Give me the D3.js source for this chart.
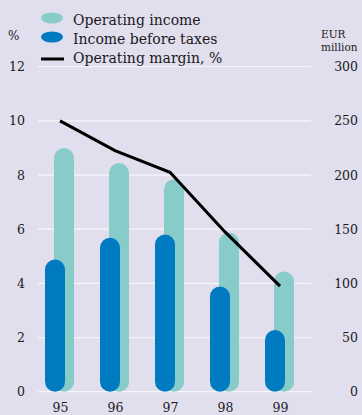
<!DOCTYPE html>
<html>
<head>
<meta charset="utf-8">
<script src="https://cdn.jsdelivr.net/npm/d3@7"></script>
<style>
  html, body { margin: 0; padding: 0; background: #e1deee; }
  svg { display: block; }
  text { font-family: "DejaVu Serif", "Liberation Serif", serif; fill: #1a1a1a; }
</style>
</head>
<body>
<script>
const years = ["95", "96", "97", "98", "99"];
const operatingIncome = [225, 211, 196, 147, 111];
const incomeBeforeTaxes = [122, 142, 145, 97, 57];
const operatingMargin = [10.0, 8.9, 8.1, 5.9, 3.9];
const leftTicks = [0, 2, 4, 6, 8, 10, 12];
const rightTicks = [0, 50, 100, 150, 200, 250, 300];
const legendLabels = ["Operating income", "Income before taxes", "Operating margin, %"];

const W = 362, H = 415;
const colBg = "#e1deee", colTeal = "#88ccc9", colBlue = "#007bc2", colGrid = "#f6f5fb";

const svg = d3.select("body").append("svg").attr("width", W).attr("height", H);
svg.append("rect").attr("width", W).attr("height", H).attr("fill", colBg);

const x = d3.scalePoint().domain(years).range([60, 280]);
const yL = d3.scaleLinear().domain([0, 12]).range([391.7, 66.7]);
const yR = d3.scaleLinear().domain([0, 300]).range([391.7, 66.7]);

// gridlines
svg.append("g").selectAll("line").data(leftTicks).join("line")
  .attr("x1", 38).attr("x2", 311)
  .attr("y1", d => yL(d)).attr("y2", d => yL(d))
  .attr("stroke", colGrid).attr("stroke-width", 1.3);

// left axis
const gL = svg.append("g").attr("transform", "translate(38,0)")
  .call(d3.axisLeft(yL).tickValues(leftTicks).tickSize(0).tickPadding(13));
gL.select(".domain").remove();
gL.selectAll("text").attr("font-size", 12.5).attr("font-family", "DejaVu Serif").attr("fill", "#1a1a1a");

// right axis
const gR = svg.append("g").attr("transform", "translate(358,0)")
  .call(d3.axisLeft(yR).tickValues(rightTicks).tickSize(0).tickPadding(0));
gR.select(".domain").remove();
gR.selectAll("text").attr("font-size", 12.5).attr("font-family", "DejaVu Serif").attr("fill", "#1a1a1a");

// x axis
const gX = svg.append("g").attr("transform", `translate(0,${yL(0)})`)
  .call(d3.axisBottom(x).tickSize(0).tickPadding(0));
gX.select(".domain").remove();
gX.selectAll("text").attr("font-size", 12.5).attr("font-family", "DejaVu Serif").attr("fill", "#1a1a1a")
  .attr("dy", null).attr("y", 20.5);

const bw = 20;
// operating income (behind)
svg.append("g").selectAll("rect").data(operatingIncome).join("rect")
  .attr("x", (d, i) => x(years[i]) - 6)
  .attr("y", d => yR(d))
  .attr("width", bw)
  .attr("height", d => yR(0) - yR(d))
  .attr("rx", bw / 2).attr("ry", bw / 2)
  .attr("fill", colTeal);

// income before taxes (front)
svg.append("g").selectAll("rect").data(incomeBeforeTaxes).join("rect")
  .attr("x", (d, i) => x(years[i]) - 15)
  .attr("y", d => yR(d))
  .attr("width", bw)
  .attr("height", d => yR(0) - yR(d))
  .attr("rx", bw / 2).attr("ry", bw / 2)
  .attr("fill", colBlue);

// operating margin line
const line = d3.line().x((d, i) => x(years[i])).y(d => yL(d));
svg.append("path").datum(operatingMargin)
  .attr("d", line).attr("fill", "none")
  .attr("stroke", "#000").attr("stroke-width", 3);

// axis titles
svg.append("text").attr("x", 8).attr("y", 40).attr("font-size", 12).text("%");
svg.append("text").attr("x", 321).attr("y", 38).attr("font-size", 10.5).text("EUR");
svg.append("text").attr("x", 321).attr("y", 51).attr("font-size", 10.5).text("million");

// legend
const lg = svg.append("g");
lg.append("ellipse").attr("cx", 52).attr("cy", 18).attr("rx", 11).attr("ry", 5.5).attr("fill", colTeal);
lg.append("ellipse").attr("cx", 52).attr("cy", 37).attr("rx", 11).attr("ry", 5.5).attr("fill", colBlue);
lg.append("line").attr("x1", 41).attr("x2", 64).attr("y1", 59).attr("y2", 59).attr("stroke", "#000").attr("stroke-width", 3);
const ly = [24.5, 44, 63.3];
lg.selectAll("text.leg").data(legendLabels).join("text").attr("class", "leg")
  .attr("x", 73).attr("y", (d, i) => ly[i]).attr("font-size", 14).text(d => d);
</script>
</body>
</html>
